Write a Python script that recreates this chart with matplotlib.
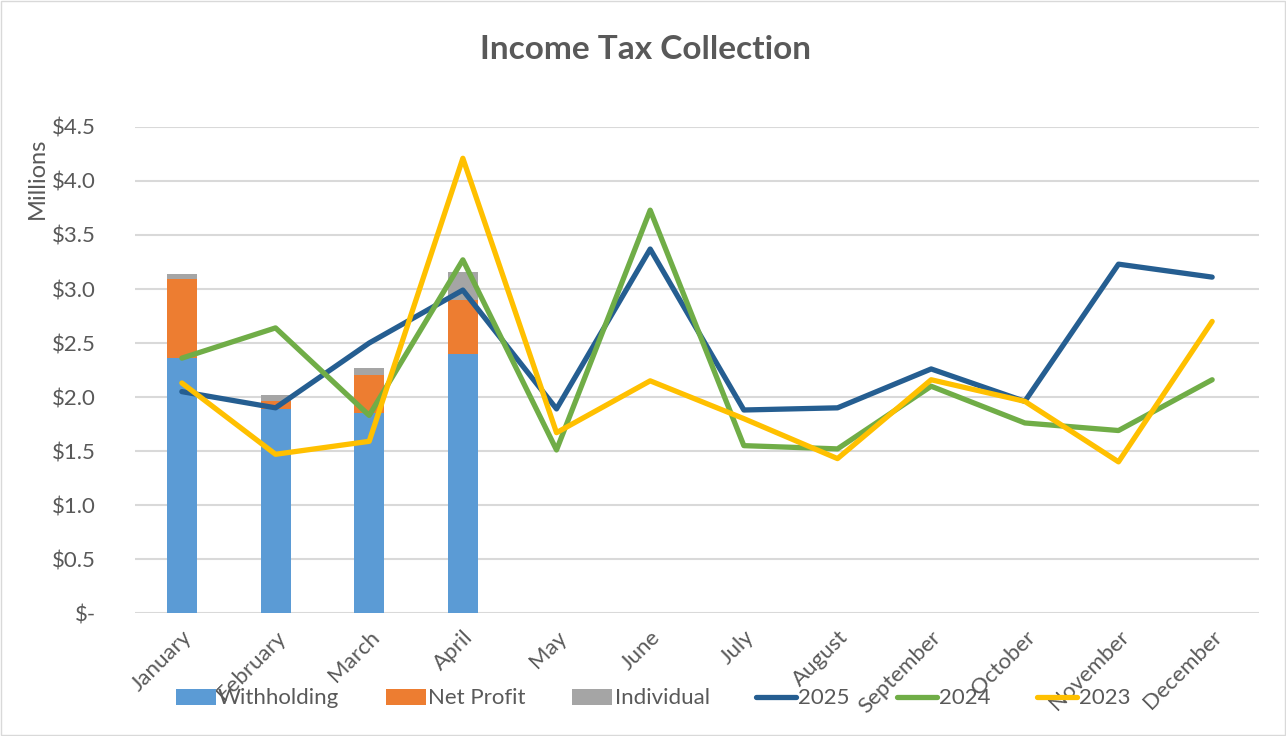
import matplotlib
import matplotlib.pyplot as plt
from matplotlib import ticker
from matplotlib.patches import Rectangle

matplotlib.use("Agg")

months = ["January", "February", "March", "April", "May", "June", "July",
          "August", "September", "October", "November", "December"]

# stacked bars (millions), only Jan-Apr reported
withholding = [2.36, 1.89, 1.85, 2.40]
net_profit = [0.73, 0.07, 0.35, 0.50]
individual = [0.05, 0.06, 0.07, 0.26]

# yearly totals (millions)
y2025 = [2.05, 1.90, 2.50, 2.99, 1.89, 3.37, 1.88, 1.90, 2.26, 1.96, 3.23, 3.11]
y2024 = [2.36, 2.64, 1.83, 3.27, 1.51, 3.73, 1.55, 1.52, 2.10, 1.76, 1.69, 2.16]
y2023 = [2.13, 1.47, 1.59, 4.21, 1.67, 2.15, 1.80, 1.43, 2.16, 1.96, 1.40, 2.70]

plt.rcParams["font.family"] = ["Lato", "DejaVu Sans"]
text_color = "#595959"
fs = 16

fig = plt.figure(figsize=(12.86, 7.36), dpi=100)
ax = fig.add_axes([0.105, 0.167, 0.874, 0.6605])

x = list(range(len(months)))
xb = x[:len(withholding)]
bw = 0.32
bottom2 = [a + b for a, b in zip(withholding, net_profit)]
ax.bar(xb, withholding, bw, color="#5B9BD5", label="Withholding", zorder=2)
ax.bar(xb, net_profit, bw, bottom=withholding, color="#ED7D31",
       label="Net Profit", zorder=2)
ax.bar(xb, individual, bw, bottom=bottom2, color="#A5A5A5",
       label="Individual", zorder=2)

line_kw = dict(lw=3.8, zorder=3, solid_capstyle="round", solid_joinstyle="round")
ax.plot(x, y2025, color="#255E91", label="2025", **line_kw)
ax.plot(x, y2024, color="#70AD47", label="2024", **line_kw)
ax.plot(x, y2023, color="#FFC000", label="2023", **line_kw)

ax.set_xlim(-0.5, len(months) - 0.5)
ax.set_ylim(0, 4.5)
ax.set_yticks([i * 0.5 for i in range(10)])


def money(v, pos):
    if abs(v) < 1e-9:
        return "$-"
    return f"${v:.1f}"


ax.yaxis.set_major_formatter(ticker.FuncFormatter(money))
ax.grid(axis="y", color="#D9D9D9", lw=1.5, zorder=0)
ax.set_axisbelow(True)
for s in ax.spines.values():
    s.set_visible(False)
ax.tick_params(axis="both", length=0, labelsize=fs, colors=text_color)
ax.tick_params(axis="y", pad=28)
ax.set_xticks(x)
ax.set_xticklabels(months, rotation=45, ha="right", rotation_mode="anchor")
ax.tick_params(axis="x", pad=10)

fig.text(0.502, 0.933, "Income Tax Collection", ha="center", va="center",
         fontsize=24, fontweight="bold", color=text_color)
fig.text(0.029, 0.758, "Millions", rotation=90, ha="center", va="center",
         fontsize=17, color=text_color)

handles, labels = ax.get_legend_handles_labels()
order = [3, 4, 5, 0, 1, 2]
fig.legend([handles[i] for i in order], [labels[i] for i in order],
           loc="center", bbox_to_anchor=(0.508, 0.051), ncol=6, frameon=False,
           fontsize=fs, labelcolor=text_color, handlelength=1.8,
           handleheight=0.75, handletextpad=0.1, columnspacing=2.1)

fig.patches.append(Rectangle((0.001, 0.001), 0.998, 0.998, transform=fig.transFigure,
                             fill=False, edgecolor="#D9D9D9", lw=1))

fig.savefig("out.png", dpi=100)
